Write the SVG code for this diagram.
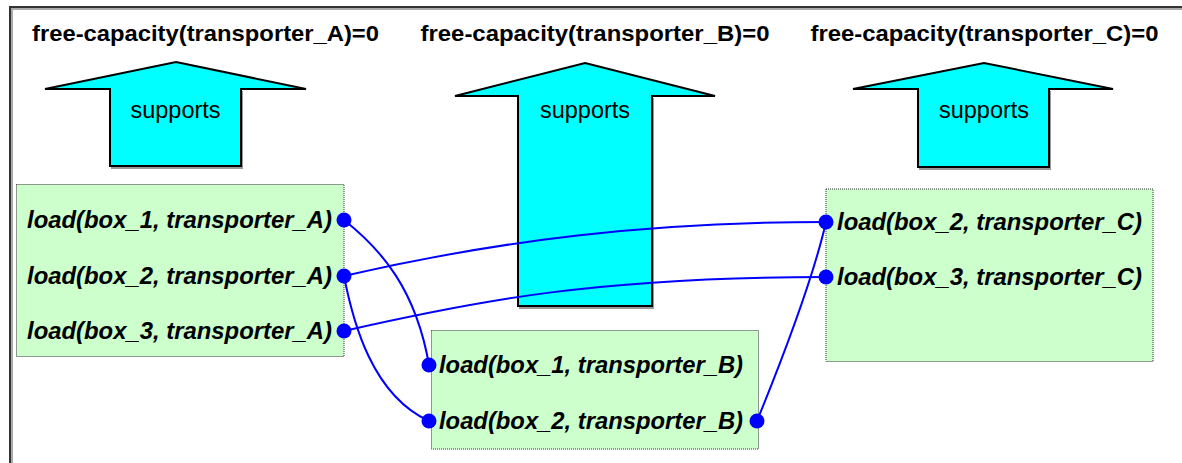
<svg xmlns="http://www.w3.org/2000/svg" width="1182" height="463" viewBox="0 0 1182 463">
  <style>
    .title { font-family: "Liberation Sans", Arial, sans-serif; font-weight: bold; font-size: 22px; fill: #000; text-anchor: middle; }
    .sup { font-family: "Liberation Sans", Arial, sans-serif; font-size: 23px; fill: #000; text-anchor: middle; }
    .lbl { font-family: "Liberation Sans", Arial, sans-serif; font-weight: bold; font-style: italic; font-size: 24px; fill: #000; }
    .arrow { fill: #00ffff; stroke: #000; stroke-width: 2; stroke-linejoin: miter; }
    .arrow-shadow { fill: none; stroke: #999; stroke-width: 2; }
    .box { fill: #ccffcc; stroke: #333; stroke-width: 1; stroke-dasharray: 1 1; }
    .conn { fill: none; stroke: #0000ff; stroke-width: 2; }
    .dot { fill: #0000ff; }
  </style>

  <rect width="1182" height="463" fill="#fff"/>

  <!-- frame -->
  <g id="frame">
    <polyline points="12,465 12,9 1184,9" fill="none" stroke="#aaa" stroke-width="2"/>
    <polyline points="10,465 10,7 1184,7" fill="none" stroke="#333" stroke-width="2"/>
  </g>

  <!-- titles -->
  <g id="title-A"><text class="title" x="205.5" y="41" textLength="347" lengthAdjust="spacingAndGlyphs">free-capacity(transporter_A)=0</text></g>
  <g id="title-B"><text class="title" x="595" y="41" textLength="349" lengthAdjust="spacingAndGlyphs">free-capacity(transporter_B)=0</text></g>
  <g id="title-C"><text class="title" x="984.5" y="41" textLength="348" lengthAdjust="spacingAndGlyphs">free-capacity(transporter_C)=0</text></g>

  <!-- support arrows -->
  <g id="arrow-A">
    <polyline class="arrow-shadow" points="111,168 242,168 242,91"/>
    <polygon class="arrow" points="176,62 306,89 241,89 241,166 110,166 110,89 45,89"/>
    <text class="sup" x="175.5" y="117.5" textLength="90" lengthAdjust="spacingAndGlyphs">supports</text>
  </g>
  <g id="arrow-B">
    <polyline class="arrow-shadow" points="519,308 653,308 653,98"/>
    <polygon class="arrow" points="585,63 715,96 652,96 652,306 518,306 518,96 455,96"/>
    <text class="sup" x="585" y="118" textLength="90" lengthAdjust="spacingAndGlyphs">supports</text>
  </g>
  <g id="arrow-C">
    <polyline class="arrow-shadow" points="919,169 1050,169 1050,91"/>
    <polygon class="arrow" points="984,63 1113,89 1049,89 1049,167 918,167 918,89 853,89"/>
    <text class="sup" x="984" y="118" textLength="90" lengthAdjust="spacingAndGlyphs">supports</text>
  </g>

  <!-- boxes -->
  <g id="box-A">
    <rect class="box" x="16.5" y="184.5" width="327.5" height="172"/>
    <text class="lbl" x="27" y="228" textLength="305" lengthAdjust="spacingAndGlyphs">load(box_1, transporter_A)</text>
    <text class="lbl" x="27" y="284" textLength="305" lengthAdjust="spacingAndGlyphs">load(box_2, transporter_A)</text>
    <text class="lbl" x="27" y="339" textLength="305" lengthAdjust="spacingAndGlyphs">load(box_3, transporter_A)</text>
  </g>
  <g id="box-B">
    <rect class="box" x="431.5" y="330.5" width="327" height="118.5"/>
    <text class="lbl" x="439" y="373" textLength="304" lengthAdjust="spacingAndGlyphs">load(box_1, transporter_B)</text>
    <text class="lbl" x="439" y="429" textLength="304" lengthAdjust="spacingAndGlyphs">load(box_2, transporter_B)</text>
  </g>
  <g id="box-C">
    <rect class="box" x="826" y="189" width="327" height="172.5"/>
    <text class="lbl" x="837" y="230" textLength="305" lengthAdjust="spacingAndGlyphs">load(box_2, transporter_C)</text>
    <text class="lbl" x="837" y="285" textLength="305" lengthAdjust="spacingAndGlyphs">load(box_3, transporter_C)</text>
  </g>

  <!-- connectors -->
  <g id="connectors">
    <path class="conn" d="M344,220 C382,250 416,290 429,365"/>
    <path class="conn" d="M344,276 C353,322 372,395 429,421"/>
    <path class="conn" d="M344,276 C500,240 650,222 826,222"/>
    <path class="conn" d="M344,331 C480,300 600,277 826,277"/>
    <path class="conn" d="M757,421 C790,340 815,270 826,222"/>
  </g>

  <!-- connection points -->
  <g id="points">
    <circle class="dot" cx="344" cy="220" r="7.5"/>
    <circle class="dot" cx="344" cy="276" r="7.5"/>
    <circle class="dot" cx="344" cy="331" r="7.5"/>
    <circle class="dot" cx="429" cy="365" r="7.5"/>
    <circle class="dot" cx="429" cy="421" r="7.5"/>
    <circle class="dot" cx="757" cy="421" r="7.5"/>
    <circle class="dot" cx="826" cy="222" r="7.5"/>
    <circle class="dot" cx="826" cy="277" r="7.5"/>
  </g>
</svg>
